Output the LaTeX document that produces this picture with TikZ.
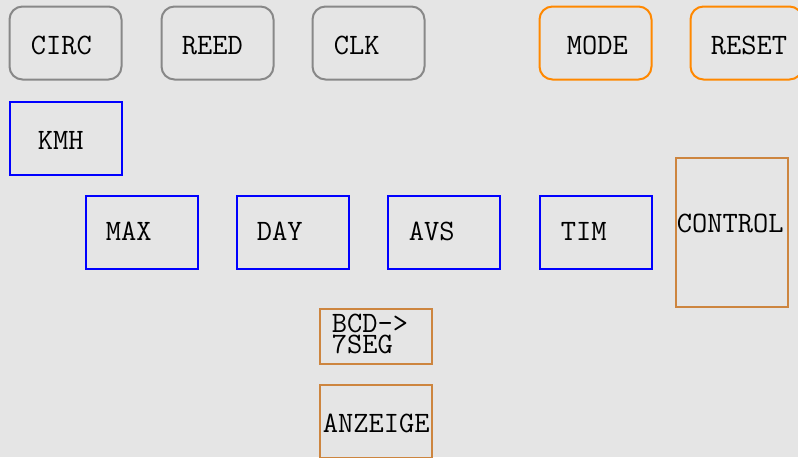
\documentclass[tikz,border=0pt]{standalone}
\usetikzlibrary{positioning}
\definecolor{bg}{RGB}{229,229,229}
\definecolor{grayb}{RGB}{136,136,136}
\definecolor{orangeb}{RGB}{255,136,0}
\definecolor{brownb}{RGB}{205,133,63}
\tikzset{
  box/.style={draw, line width=1pt, minimum width=56pt, minimum height=36.5pt, inner sep=0pt, anchor=north west},
  inbox/.style={box, draw=grayb, rounded corners=6.5pt},
  btnbox/.style={box, draw=orangeb, rounded corners=6.5pt},
  regbox/.style={box, draw=blue},
  hwbox/.style={box, draw=brownb},
  lbl/.style={anchor=base west, inner sep=0pt, font=\fontsize{14.8}{10.5}\selectfont\ttfamily, align=left}
}
\begin{document}
\begin{tikzpicture}[x=0.5pt,y=-0.5pt]
\fill[bg] (0,0) rectangle (798,457);
\useasboundingbox (0,0) rectangle (798,457);
% row 1
\node[inbox] (circ) at (8.5,5.5) {};
\node[inbox] (reed) at (160.5,5.5) {};
\node[inbox] (clk) at (311.5,5.5) {};
\node[btnbox] (mode) at (538.5,5.5) {};
\node[btnbox] (reset) at (689.5,5.5) {};
\node[lbl] (tcirc) at (30.5,54) {CIRC};
\node[lbl] (treed) at (181.5,54) {REED};
\node[lbl] (tclk) at (333.5,54) {CLK};
\node[lbl] (tmode) at (566.5,54) {MODE};
\node[lbl] (treset) at (710.5,54) {RESET};
% KMH
\node[regbox] (kmh) at (8.5,100.5) {};
\node[lbl] (tkmh) at (37.5,149) {KMH};
% row 2
\node[regbox] (max) at (84.5,194.5) {};
\node[regbox] (day) at (235.5,194.5) {};
\node[regbox] (avs) at (386.5,194.5) {};
\node[regbox] (tim) at (538.5,194.5) {};
\node[lbl] (tmax) at (105.5,240) {MAX};
\node[lbl] (tday) at (256.5,240) {DAY};
\node[lbl] (tavs) at (408.5,240) {AVS};
\node[lbl] (ttim) at (560.5,240) {TIM};
% control
\node[hwbox, minimum height=74.5pt] (control) at (674.5,156.5) {};
\node[lbl] (tcontrol) at (676.5,232) {CONTROL};
% decoder
\node[hwbox, minimum height=27.5pt] (bcd) at (318.5,307.5) {};
\node[lbl] (tbcd) at (331.5,353) {BCD->\\7SEG};
% display
\node[hwbox] (anz) at (318.5,383.5) {};
\node[lbl] (tanz) at (322.5,432) {ANZEIGE};
\end{tikzpicture}
\end{document}
